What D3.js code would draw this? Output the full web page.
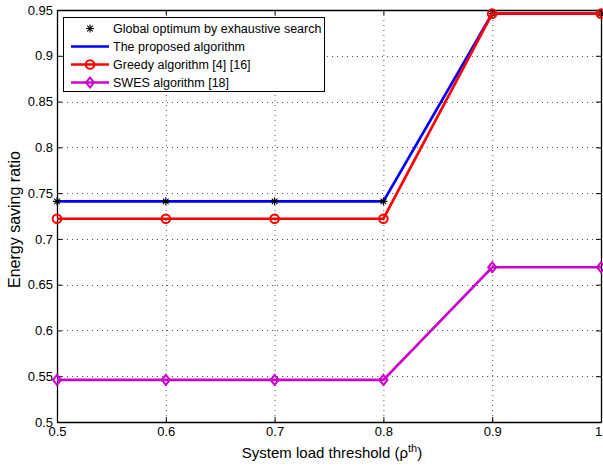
<!DOCTYPE html>
<html>
<head>
<meta charset="utf-8">
<script src="https://cdn.jsdelivr.net/npm/d3@7"></script>
<style>
  body { margin: 0; background: #fff; }
  svg { font-family: Arial, "Liberation Sans", sans-serif; }
</style>
</head>
<body>
<div id="chart"></div>
<script>
// Data
const thresholds = [0.5, 0.6, 0.7, 0.8, 0.9, 1.0];
const globalOptimum = [0.741, 0.741, 0.741, 0.741, 0.946, 0.946];
const proposed = [0.741, 0.741, 0.741, 0.741, 0.946, 0.946];
const greedy = [0.722, 0.722, 0.722, 0.722, 0.946, 0.946];
const swes = [0.546, 0.546, 0.546, 0.546, 0.669, 0.669];
const xTicks = [0.5, 0.6, 0.7, 0.8, 0.9, 1];
const yTicks = [0.5, 0.55, 0.6, 0.65, 0.7, 0.75, 0.8, 0.85, 0.9, 0.95];

const width = 603, height = 466;
const margin = { left: 57, right: 2, top: 10, bottom: 44 };

const svg = d3.select('#chart').append('svg')
  .attr('width', width)
  .attr('height', height);

const x = d3.scaleLinear().domain([0.5, 1]).range([margin.left, width - margin.right]);
const y = d3.scaleLinear().domain([0.5, 0.95]).range([height - margin.bottom, margin.top]);

// Dotted grid
const grid = svg.append('g').attr('stroke', '#555').attr('stroke-width', 1)
  .attr('stroke-dasharray', '1,4');
grid.selectAll('.gx').data(xTicks.slice(1, -1)).enter().append('line')
  .attr('x1', d => x(d) + 0.5).attr('x2', d => x(d) + 0.5)
  .attr('y1', y(0.95)).attr('y2', y(0.5));
grid.selectAll('.gy').data(yTicks.slice(1, -1)).enter().append('line')
  .attr('y1', d => Math.round(y(d)) + 0.5).attr('y2', d => Math.round(y(d)) + 0.5)
  .attr('x1', x(0.5)).attr('x2', x(1));

// Axes (bottom/left with labels, top/right mirrored ticks)
const fmt = d => String(+d.toFixed(2));
svg.append('g').attr('class', 'xaxis').attr('transform', `translate(0,${y(0.5)})`)
  .call(d3.axisBottom(x).tickValues(xTicks).tickFormat(fmt).tickSizeInner(-5).tickSizeOuter(0).tickPadding(5));
svg.append('g').attr('transform', `translate(0,${y(0.95)})`)
  .call(d3.axisTop(x).tickValues(xTicks).tickFormat('').tickSizeInner(-5).tickSizeOuter(0));
svg.append('g').attr('transform', `translate(${x(0.5)},0)`)
  .call(d3.axisLeft(y).tickValues(yTicks).tickFormat(fmt).tickSizeInner(-5).tickSizeOuter(0).tickPadding(4));
svg.append('g').attr('transform', `translate(${x(1)},0)`)
  .call(d3.axisRight(y).tickValues(yTicks).tickFormat('').tickSizeInner(-5).tickSizeOuter(0));

svg.selectAll('.domain').attr('stroke', '#000').attr('stroke-width', 1.3);
svg.selectAll('.tick line').attr('stroke', '#000');
svg.selectAll('.tick text').attr('font-size', 13).attr('fill', '#000')
  .attr('font-family', 'Arial, "Liberation Sans", sans-serif');
// keep the last x tick label inside the page
svg.selectAll('.xaxis .tick text').filter(d => d === 1).attr('dx', -3);

// Axis labels
svg.append('text')
  .attr('x', 332).attr('y', 458)
  .attr('text-anchor', 'middle').attr('font-size', 15)
  .html('System load threshold (&#961;<tspan dy="-6" font-size="11">th</tspan><tspan dy="6">)</tspan>');
svg.append('text')
  .attr('transform', 'translate(19.5,219.5) rotate(-90)')
  .attr('text-anchor', 'middle').attr('font-size', 16)
  .text('Energy saving ratio');

const line = d3.line().x(d => x(d[0])).y(d => y(d[1]));
const zip = vals => thresholds.map((t, i) => [t, vals[i]]);

const plot = svg.append('g');

function drawSeries(vals, color) {
  plot.append('path').datum(zip(vals))
    .attr('fill', 'none').attr('stroke', color).attr('stroke-width', 2.7)
    .attr('d', line);
}

function star(g, cx, cy, s) {
  const r = s;
  g.append('path')
    .attr('d', `M${cx - r},${cy}H${cx + r}M${cx},${cy - r}V${cy + r}` +
      `M${cx - r * 0.7},${cy - r * 0.7}L${cx + r * 0.7},${cy + r * 0.7}` +
      `M${cx - r * 0.7},${cy + r * 0.7}L${cx + r * 0.7},${cy - r * 0.7}`)
    .attr('stroke', '#000').attr('stroke-width', 1.1).attr('fill', 'none');
}
function circleMark(g, cx, cy, color) {
  g.append('circle').attr('cx', cx).attr('cy', cy).attr('r', 4.3)
    .attr('fill', 'none').attr('stroke', color).attr('stroke-width', 2);
}
function diamondMark(g, cx, cy, color) {
  const r = 5;
  g.append('path').attr('d', `M${cx},${cy - r}L${cx + r - 1},${cy}L${cx},${cy + r}L${cx - r + 1},${cy}Z`)
    .attr('fill', 'none').attr('stroke', color).attr('stroke-width', 2);
}

drawSeries(proposed, '#0000ff');
zip(globalOptimum).forEach(d => star(plot, x(d[0]), y(d[1]), 4));
drawSeries(greedy, '#ff0000');
zip(greedy).forEach(d => circleMark(plot, x(d[0]), y(d[1]), '#ff0000'));
drawSeries(swes, '#cc00cc');
zip(swes).forEach(d => diamondMark(plot, x(d[0]), y(d[1]), '#cc00cc'));

// Legend
const legendItems = [
  { label: 'Global optimum by exhaustive search', color: '#000', kind: 'star' },
  { label: 'The proposed algorithm', color: '#0000ff', kind: 'line' },
  { label: 'Greedy algorithm [4] [16]', color: '#ff0000', kind: 'circle' },
  { label: 'SWES algorithm [18]', color: '#cc00cc', kind: 'diamond' }
];
const lg = svg.append('g');
lg.append('rect').attr('x', 63.5).attr('y', 17.5).attr('width', 261).attr('height', 74)
  .attr('fill', '#fff').attr('stroke', '#000').attr('stroke-width', 1);
legendItems.forEach((d, i) => {
  const cy = 28.5 + i * 18;
  if (d.kind !== 'star') {
    lg.append('line').attr('x1', 71).attr('x2', 109).attr('y1', cy).attr('y2', cy)
      .attr('stroke', d.color).attr('stroke-width', 2.7);
  }
  if (d.kind === 'star') star(lg, 90, cy, 4);
  if (d.kind === 'circle') circleMark(lg, 90, cy, d.color);
  if (d.kind === 'diamond') diamondMark(lg, 90, cy, d.color);
  lg.append('text').attr('x', 113).attr('y', cy + 4.5).attr('font-size', 12.5)
    .text(d.label);
});
</script>
</body>
</html>
